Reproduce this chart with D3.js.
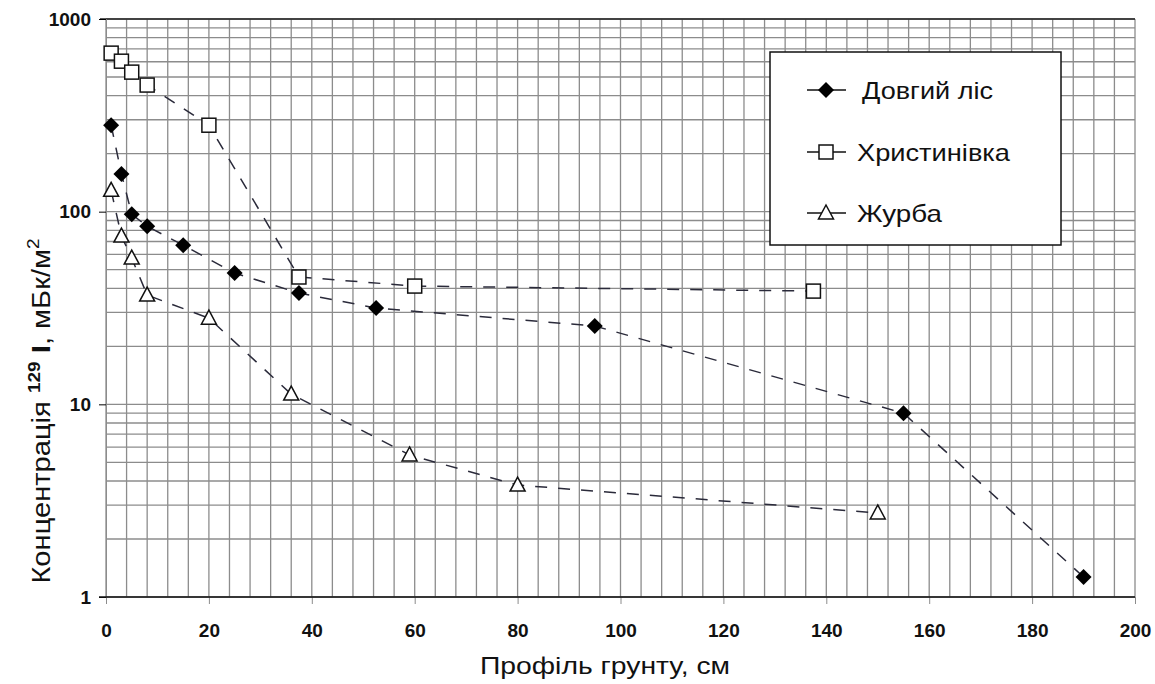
<!DOCTYPE html>
<html>
<head>
<meta charset="utf-8">
<script src="https://cdn.jsdelivr.net/npm/d3@7"></script>
<style>
  body { margin: 0; background: #fff; }
  svg { font-family: Arial, "Liberation Sans", sans-serif; }
</style>
</head>
<body>
<div id="chart"></div>
<script>
// series data: depth (cm) and concentration
var seriesNames = ["Довгий ліс", "Христинівка", "Журба"];
var dovgyiX = [1, 3, 5, 8, 15, 25, 37.5, 52.5, 95, 155, 190];
var dovgyiY = [281, 157, 97, 84, 67, 48, 37.8, 31.6, 25.5, 9.0, 1.27];
var khrystX = [1, 3, 5, 8, 20, 37.5, 60, 137.5];
var khrystY = [665, 604, 530, 454, 281, 45.8, 41.1, 38.7];
var zhurbaX = [1, 3, 5, 8, 20, 36, 59, 80, 150];
var zhurbaY = [129, 74.7, 57.4, 36.9, 28, 11.3, 5.46, 3.81, 2.73];
var xTicks = [0, 20, 40, 60, 80, 100, 120, 140, 160, 180, 200];
var yTicks = [1, 10, 100, 1000];

var svgWidth = 1155;
var svgHeight = 684;
var margin = { top: 19, right: 20, bottom: 87, left: 106 };
var chartWidth = 1135 - margin.left;
var chartHeight = 597 - margin.top;

var svg = d3.select("#chart")
  .append("svg")
  .attr("width", svgWidth)
  .attr("height", svgHeight);

var chartGroup = svg.append("g")
  .attr("transform", `translate(${margin.left}, ${margin.top})`);

var x = d3.scaleLinear().domain([0, 200]).range([0, chartWidth]);
var y = d3.scaleLog().domain([1, 1000]).range([chartHeight, 0]);

// grid: vertical every 4 cm, horizontal on log minors
var gridColor = "#8c8c8c";
chartGroup.append("g").selectAll("line")
  .data(d3.range(0, 201, 4))
  .enter().append("line")
  .attr("x1", d => x(d)).attr("x2", d => x(d))
  .attr("y1", 0).attr("y2", chartHeight)
  .attr("stroke", gridColor).attr("stroke-width", 1.3);

chartGroup.append("g").selectAll("line")
  .data(y.ticks())
  .enter().append("line")
  .attr("x1", 0).attr("x2", chartWidth)
  .attr("y1", d => y(d)).attr("y2", d => y(d))
  .attr("stroke", gridColor).attr("stroke-width", 1.3);

// top border
chartGroup.append("line")
  .attr("x1", -6).attr("x2", chartWidth)
  .attr("y1", 0).attr("y2", 0)
  .attr("stroke", "#222").attr("stroke-width", 1.5);

// axes
var leftAxis = d3.axisLeft(y).tickValues(yTicks).tickFormat(d3.format("d")).tickSize(7).tickPadding(8);
var bottomAxis = d3.axisBottom(x).tickValues(xTicks).tickSize(7).tickPadding(20);

var yAxisG = chartGroup.append("g").call(leftAxis);
yAxisG.select(".domain").attr("stroke", gridColor);
yAxisG.selectAll("text").attr("font-size", 19).attr("font-weight", "bold")
  .attr("font-family", "Arial, 'Liberation Sans', sans-serif").attr("fill", "#111");

var xAxisG = chartGroup.append("g")
  .attr("transform", `translate(0, ${chartHeight})`)
  .call(bottomAxis);
xAxisG.select(".domain").remove();
xAxisG.selectAll(".tick line").attr("stroke", gridColor);
xAxisG.selectAll("text").attr("font-size", 19).attr("font-weight", "bold")
  .attr("font-family", "Arial, 'Liberation Sans', sans-serif").attr("fill", "#111");
chartGroup.append("line")
  .attr("x1", -7).attr("x2", chartWidth)
  .attr("y1", chartHeight).attr("y2", chartHeight)
  .attr("stroke", "#111").attr("stroke-width", 1.5);

// series
var series = [
  { name: seriesNames[0], xs: dovgyiX, ys: dovgyiY, shape: "diamond" },
  { name: seriesNames[1], xs: khrystX, ys: khrystY, shape: "square" },
  { name: seriesNames[2], xs: zhurbaX, ys: zhurbaY, shape: "triangle" }
];

var line = d3.line().x(d => x(d[0])).y(d => y(d[1]));

function drawMarker(g, shape, cx, cy) {
  if (shape === "diamond") {
    g.append("path")
      .attr("d", `M${cx},${cy - 8}L${cx + 8},${cy}L${cx},${cy + 8}L${cx - 8},${cy}Z`)
      .attr("fill", "#000");
  } else if (shape === "square") {
    g.append("rect")
      .attr("x", cx - 7).attr("y", cy - 7).attr("width", 14).attr("height", 14)
      .attr("fill", "#fff").attr("stroke", "#111").attr("stroke-width", 1.5);
  } else {
    g.append("path")
      .attr("d", `M${cx},${cy - 8}L${cx + 7.5},${cy + 6}L${cx - 7.5},${cy + 6}Z`)
      .attr("fill", "#fff").attr("stroke", "#111").attr("stroke-width", 1.5);
  }
}

series.forEach(function(s) {
  var pts = s.xs.map((v, i) => [v, s.ys[i]]);
  chartGroup.append("path")
    .datum(pts)
    .attr("d", line)
    .attr("fill", "none")
    .attr("stroke", "#2a2a3a")
    .attr("stroke-width", 1.5)
    .attr("stroke-dasharray", "12,11");
  var mg = chartGroup.append("g");
  pts.forEach(p => drawMarker(mg, s.shape, x(p[0]), y(p[1])));
});

// legend
var legend = svg.append("g");
legend.append("rect")
  .attr("x", 770).attr("y", 52).attr("width", 291).attr("height", 193)
  .attr("fill", "#fff").attr("stroke", "#111").attr("stroke-width", 1.5);
var legendY = [90, 152, 213];
var legendTextX = [862, 857, 857];
var legendTextW = [131, 153, 85];
series.forEach(function(s, i) {
  legend.append("line")
    .attr("x1", 807).attr("x2", 846)
    .attr("y1", legendY[i]).attr("y2", legendY[i])
    .attr("stroke", "#111").attr("stroke-width", 1.5);
  drawMarker(legend, s.shape, 826, legendY[i]);
  legend.append("text")
    .attr("x", legendTextX[i]).attr("y", legendY[i] + 9)
    .attr("font-size", 24)
    .attr("textLength", legendTextW[i])
    .attr("lengthAdjust", "spacingAndGlyphs")
    .attr("fill", "#111")
    .text(s.name);
});

// axis titles
svg.append("text")
  .attr("x", 480).attr("y", 674)
  .attr("font-size", 24)
  .attr("textLength", 250)
  .attr("lengthAdjust", "spacingAndGlyphs")
  .attr("fill", "#111")
  .text("Профіль грунту, см");

var yLabel = svg.append("text")
  .attr("transform", "translate(50, 411) rotate(-90) scale(1.12, 1)")
  .attr("text-anchor", "middle")
  .attr("font-size", 26)
  .attr("fill", "#111");
yLabel.append("tspan").text("Концентрація ");
yLabel.append("tspan").attr("font-size", 17).attr("font-weight", "bold").attr("dy", -10).text("129");
yLabel.append("tspan").attr("font-weight", "bold").attr("dy", 10).text(" I");
yLabel.append("tspan").text(", мБк/м");
yLabel.append("tspan").attr("font-size", 17).attr("dy", -11).text("2");
</script>
</body>
</html>
